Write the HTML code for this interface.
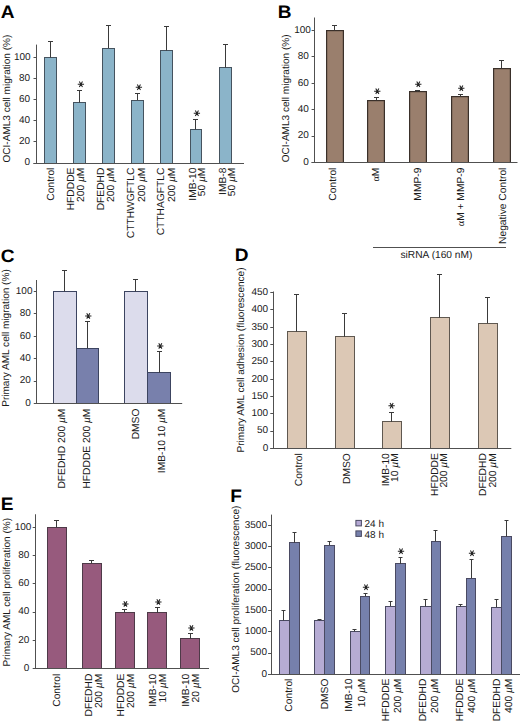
<!DOCTYPE html>
<html><head><meta charset="utf-8"><style>
html,body{margin:0;padding:0;background:#fff;}
svg{display:block;}
text{font-family:"Liberation Sans", sans-serif;text-rendering:geometricPrecision;}
</style></head><body>
<svg width="520" height="723" viewBox="0 0 520 723">
<rect width="520" height="723" fill="#fff"/>
<text transform="translate(0.80,17.60) scale(1.06,1)" font-size="18" font-weight="bold" fill="#000">A</text>
<rect x="44" y="57" width="13" height="107" fill="#45535f"/>
<rect x="45.00" y="58.00" width="11.00" height="106.00" fill="#8bb4c9"/>
<line x1="50.50" y1="57.50" x2="50.50" y2="41.15" stroke="#3a3a3a" stroke-width="1"/>
<line x1="48.00" y1="41.50" x2="53.00" y2="41.50" stroke="#3a3a3a" stroke-width="1"/>
<rect x="73" y="102" width="13" height="62" fill="#45535f"/>
<rect x="74.00" y="103.00" width="11.00" height="61.00" fill="#8bb4c9"/>
<line x1="79.50" y1="102.55" x2="79.50" y2="90.52" stroke="#3a3a3a" stroke-width="1"/>
<line x1="77.00" y1="90.50" x2="82.00" y2="90.50" stroke="#3a3a3a" stroke-width="1"/>
<path d="M77.75 84.20H84.05M79.33 81.47L82.48 86.93M82.48 81.47L79.33 86.93" stroke="#222" stroke-width="1.05" fill="none"/>
<rect x="102" y="48" width="13" height="116" fill="#45535f"/>
<rect x="103.00" y="49.00" width="11.00" height="115.00" fill="#8bb4c9"/>
<line x1="108.50" y1="48.01" x2="108.50" y2="25.96" stroke="#3a3a3a" stroke-width="1"/>
<line x1="106.00" y1="25.50" x2="111.00" y2="25.50" stroke="#3a3a3a" stroke-width="1"/>
<rect x="131" y="100" width="13" height="64" fill="#45535f"/>
<rect x="132.00" y="101.00" width="11.00" height="63.00" fill="#8bb4c9"/>
<line x1="137.50" y1="100.02" x2="137.50" y2="93.79" stroke="#3a3a3a" stroke-width="1"/>
<line x1="135.00" y1="93.50" x2="140.00" y2="93.50" stroke="#3a3a3a" stroke-width="1"/>
<path d="M135.75 87.20H142.05M137.33 84.47L140.47 89.93M140.47 84.47L137.33 89.93" stroke="#222" stroke-width="1.05" fill="none"/>
<rect x="160" y="50" width="13" height="114" fill="#45535f"/>
<rect x="161.00" y="51.00" width="11.00" height="113.00" fill="#8bb4c9"/>
<line x1="166.50" y1="50.54" x2="166.50" y2="26.27" stroke="#3a3a3a" stroke-width="1"/>
<line x1="164.00" y1="26.50" x2="169.00" y2="26.50" stroke="#3a3a3a" stroke-width="1"/>
<rect x="190" y="129" width="12" height="35" fill="#45535f"/>
<rect x="191.00" y="130.00" width="10.00" height="34.00" fill="#8bb4c9"/>
<line x1="195.50" y1="129.50" x2="195.50" y2="119.01" stroke="#3a3a3a" stroke-width="1"/>
<line x1="193.00" y1="119.50" x2="198.00" y2="119.50" stroke="#3a3a3a" stroke-width="1"/>
<path d="M193.75 113.20H200.05M195.33 110.47L198.47 115.93M198.47 110.47L195.33 115.93" stroke="#222" stroke-width="1.05" fill="none"/>
<rect x="219" y="67" width="13" height="97" fill="#45535f"/>
<rect x="220.00" y="68.00" width="11.00" height="96.00" fill="#8bb4c9"/>
<line x1="225.50" y1="67.52" x2="225.50" y2="44.52" stroke="#3a3a3a" stroke-width="1"/>
<line x1="223.00" y1="44.50" x2="228.00" y2="44.50" stroke="#3a3a3a" stroke-width="1"/>
<line x1="36.50" y1="44.60" x2="36.50" y2="163.00" stroke="#505050" stroke-width="1"/>
<line x1="33.50" y1="163.50" x2="36.50" y2="163.50" stroke="#505050" stroke-width="1"/>
<text x="30.00" y="165.30" font-size="10" text-anchor="end" font-weight="normal" fill="#1a1a1a" >0</text>
<line x1="33.50" y1="141.50" x2="36.50" y2="141.50" stroke="#505050" stroke-width="1"/>
<text x="30.00" y="144.20" font-size="10" text-anchor="end" font-weight="normal" fill="#1a1a1a" >20</text>
<line x1="33.50" y1="120.50" x2="36.50" y2="120.50" stroke="#505050" stroke-width="1"/>
<text x="30.00" y="123.10" font-size="10" text-anchor="end" font-weight="normal" fill="#1a1a1a" >40</text>
<line x1="33.50" y1="99.50" x2="36.50" y2="99.50" stroke="#505050" stroke-width="1"/>
<text x="30.00" y="102.00" font-size="10" text-anchor="end" font-weight="normal" fill="#1a1a1a" >60</text>
<line x1="33.50" y1="78.50" x2="36.50" y2="78.50" stroke="#505050" stroke-width="1"/>
<text x="30.00" y="80.90" font-size="10" text-anchor="end" font-weight="normal" fill="#1a1a1a" >80</text>
<line x1="33.50" y1="57.50" x2="36.50" y2="57.50" stroke="#505050" stroke-width="1"/>
<text x="30.70" y="59.80" font-size="10" text-anchor="end" font-weight="normal" fill="#1a1a1a" >100</text>
<line x1="33.50" y1="163.50" x2="244.00" y2="163.50" stroke="#505050" stroke-width="1"/>
<text transform="translate(54.00,167.60) rotate(-90)" font-size="10.25" text-anchor="end" fill="#1a1a1a">Control</text>
<text transform="translate(74.10,167.60) rotate(-90)" font-size="10.25" text-anchor="end" fill="#1a1a1a">HFDDDE</text>
<text transform="translate(83.70,167.60) rotate(-90)" font-size="10.25" text-anchor="end" fill="#1a1a1a">200 <tspan font-style="italic">&#181;</tspan>M</text>
<text transform="translate(104.00,167.60) rotate(-90)" font-size="10.25" text-anchor="end" fill="#1a1a1a">DFEDHD</text>
<text transform="translate(113.60,167.60) rotate(-90)" font-size="10.25" text-anchor="end" fill="#1a1a1a">200 <tspan font-style="italic">&#181;</tspan>M</text>
<text transform="translate(134.30,167.60) rotate(-90)" font-size="10.25" text-anchor="end" fill="#1a1a1a">CTTHWGFTLC</text>
<text transform="translate(144.60,167.60) rotate(-90)" font-size="10.25" text-anchor="end" fill="#1a1a1a">200 <tspan font-style="italic">&#181;</tspan>M</text>
<text transform="translate(164.30,167.60) rotate(-90)" font-size="10.25" text-anchor="end" fill="#1a1a1a">CTTHAGFTLC</text>
<text transform="translate(174.60,167.60) rotate(-90)" font-size="10.25" text-anchor="end" fill="#1a1a1a">200 <tspan font-style="italic">&#181;</tspan>M</text>
<text transform="translate(195.50,167.60) rotate(-90)" font-size="10.25" text-anchor="end" fill="#1a1a1a">IMB-10</text>
<text transform="translate(204.80,167.60) rotate(-90)" font-size="10.25" text-anchor="end" fill="#1a1a1a">50 <tspan font-style="italic">&#181;</tspan>M</text>
<text transform="translate(225.80,167.60) rotate(-90)" font-size="10.25" text-anchor="end" fill="#1a1a1a">IMB-8</text>
<text transform="translate(235.00,167.60) rotate(-90)" font-size="10.25" text-anchor="end" fill="#1a1a1a">50 <tspan font-style="italic">&#181;</tspan>M</text>
<text transform="translate(9.50,162.50) rotate(-90)" font-size="10.05" fill="#1a1a1a">OCI-AML3 cell migration (%)</text>
<text transform="translate(277.80,17.70) scale(1.06,1)" font-size="18" font-weight="bold" fill="#000">B</text>
<rect x="326" y="30" width="18" height="133" fill="#3a302a"/>
<rect x="327.20" y="31.20" width="15.60" height="131.80" fill="#9a7f6d"/>
<line x1="334.50" y1="30.40" x2="334.50" y2="25.78" stroke="#3a3a3a" stroke-width="1"/>
<line x1="332.00" y1="25.50" x2="337.00" y2="25.50" stroke="#3a3a3a" stroke-width="1"/>
<rect x="367" y="100" width="18" height="63" fill="#3a302a"/>
<rect x="368.20" y="101.20" width="15.60" height="61.80" fill="#9a7f6d"/>
<line x1="376.50" y1="100.36" x2="376.50" y2="97.46" stroke="#3a3a3a" stroke-width="1"/>
<line x1="374.00" y1="97.50" x2="379.00" y2="97.50" stroke="#3a3a3a" stroke-width="1"/>
<path d="M374.15 91.15H380.45M375.73 88.42L378.88 93.88M378.88 88.42L375.73 93.88" stroke="#222" stroke-width="1.05" fill="none"/>
<rect x="409" y="91" width="18" height="72" fill="#3a302a"/>
<rect x="410.20" y="92.20" width="15.60" height="70.80" fill="#9a7f6d"/>
<line x1="417.50" y1="91.65" x2="417.50" y2="90.06" stroke="#3a3a3a" stroke-width="1"/>
<line x1="415.00" y1="90.50" x2="420.00" y2="90.50" stroke="#3a3a3a" stroke-width="1"/>
<path d="M415.15 84.15H421.45M416.73 81.42L419.88 86.88M419.88 81.42L416.73 86.88" stroke="#222" stroke-width="1.05" fill="none"/>
<rect x="451" y="96" width="18" height="67" fill="#3a302a"/>
<rect x="452.20" y="97.20" width="15.60" height="65.80" fill="#9a7f6d"/>
<line x1="460.50" y1="96.00" x2="460.50" y2="94.68" stroke="#3a3a3a" stroke-width="1"/>
<line x1="458.00" y1="94.50" x2="463.00" y2="94.50" stroke="#3a3a3a" stroke-width="1"/>
<path d="M458.15 88.15H464.45M459.73 85.42L462.88 90.88M462.88 85.42L459.73 90.88" stroke="#222" stroke-width="1.05" fill="none"/>
<rect x="493" y="68" width="18" height="95" fill="#3a302a"/>
<rect x="494.20" y="69.20" width="15.60" height="93.80" fill="#9a7f6d"/>
<line x1="501.50" y1="68.28" x2="501.50" y2="60.23" stroke="#3a3a3a" stroke-width="1"/>
<line x1="499.00" y1="60.50" x2="504.00" y2="60.50" stroke="#3a3a3a" stroke-width="1"/>
<line x1="314.50" y1="17.50" x2="314.50" y2="162.40" stroke="#505050" stroke-width="1"/>
<line x1="311.60" y1="162.50" x2="314.60" y2="162.50" stroke="#505050" stroke-width="1"/>
<text x="308.90" y="164.70" font-size="10" text-anchor="end" font-weight="normal" fill="#1a1a1a" >0</text>
<line x1="311.60" y1="136.50" x2="314.60" y2="136.50" stroke="#505050" stroke-width="1"/>
<text x="308.90" y="138.30" font-size="10" text-anchor="end" font-weight="normal" fill="#1a1a1a" >20</text>
<line x1="311.60" y1="109.50" x2="314.60" y2="109.50" stroke="#505050" stroke-width="1"/>
<text x="308.90" y="111.90" font-size="10" text-anchor="end" font-weight="normal" fill="#1a1a1a" >40</text>
<line x1="311.60" y1="83.50" x2="314.60" y2="83.50" stroke="#505050" stroke-width="1"/>
<text x="308.90" y="85.50" font-size="10" text-anchor="end" font-weight="normal" fill="#1a1a1a" >60</text>
<line x1="311.60" y1="56.50" x2="314.60" y2="56.50" stroke="#505050" stroke-width="1"/>
<text x="308.90" y="59.10" font-size="10" text-anchor="end" font-weight="normal" fill="#1a1a1a" >80</text>
<line x1="311.60" y1="30.50" x2="314.60" y2="30.50" stroke="#505050" stroke-width="1"/>
<text x="310.90" y="32.70" font-size="10" text-anchor="end" font-weight="normal" fill="#1a1a1a" >100</text>
<line x1="311.60" y1="162.50" x2="517.50" y2="162.50" stroke="#505050" stroke-width="1"/>
<text transform="translate(336.00,167.60) rotate(-90)" font-size="10.25" text-anchor="end" fill="#1a1a1a">Control</text>
<text transform="translate(378.60,167.60) rotate(-90)" font-size="10.25" text-anchor="end" fill="#1a1a1a"><tspan font-family="Liberation Serif">&#945;</tspan>M</text>
<text transform="translate(421.20,167.60) rotate(-90)" font-size="10.25" text-anchor="end" fill="#1a1a1a">MMP-9</text>
<text transform="translate(463.60,167.60) rotate(-90)" font-size="10.25" text-anchor="end" fill="#1a1a1a"><tspan font-family="Liberation Serif">&#945;</tspan>M + MMP-9</text>
<text transform="translate(506.10,167.60) rotate(-90)" font-size="10.25" text-anchor="end" fill="#1a1a1a">Negative Control</text>
<line x1="373.00" y1="247.50" x2="506.00" y2="247.50" stroke="#505050" stroke-width="1"/>
<text x="400.50" y="258.30" font-size="10.2" text-anchor="start" font-weight="normal" fill="#1a1a1a" >siRNA (160 nM)</text>
<text transform="translate(288.80,162.30) rotate(-90)" font-size="10.05" fill="#1a1a1a">OCI-AML3 cell migration (%)</text>
<text transform="translate(0.80,261.80) scale(1.06,1)" font-size="18" font-weight="bold" fill="#000">C</text>
<rect x="53" y="291" width="24" height="113" fill="#3c4460"/>
<rect x="54.00" y="292.00" width="22.00" height="112.00" fill="#dcdcec"/>
<line x1="64.50" y1="291.40" x2="64.50" y2="270.08" stroke="#3a3a3a" stroke-width="1"/>
<line x1="62.00" y1="270.50" x2="67.00" y2="270.50" stroke="#3a3a3a" stroke-width="1"/>
<rect x="76" y="348" width="23" height="56" fill="#3c4460"/>
<rect x="77.00" y="349.00" width="21.00" height="55.00" fill="#7880ac"/>
<line x1="87.50" y1="348.17" x2="87.50" y2="321.25" stroke="#3a3a3a" stroke-width="1"/>
<line x1="85.00" y1="321.50" x2="90.00" y2="321.50" stroke="#3a3a3a" stroke-width="1"/>
<path d="M85.15 315.90H91.45M86.72 313.17L89.88 318.63M89.88 313.17L86.72 318.63" stroke="#222" stroke-width="1.05" fill="none"/>
<rect x="124" y="291" width="24" height="113" fill="#3c4460"/>
<rect x="125.00" y="292.00" width="22.00" height="112.00" fill="#dcdcec"/>
<line x1="135.50" y1="291.40" x2="135.50" y2="279.06" stroke="#3a3a3a" stroke-width="1"/>
<line x1="133.00" y1="279.50" x2="138.00" y2="279.50" stroke="#3a3a3a" stroke-width="1"/>
<rect x="147" y="372" width="24" height="32" fill="#3c4460"/>
<rect x="148.00" y="373.00" width="22.00" height="31.00" fill="#7880ac"/>
<line x1="159.50" y1="372.75" x2="159.50" y2="351.09" stroke="#3a3a3a" stroke-width="1"/>
<line x1="157.00" y1="351.50" x2="162.00" y2="351.50" stroke="#3a3a3a" stroke-width="1"/>
<path d="M157.15 345.90H163.45M158.73 343.17L161.88 348.63M161.88 343.17L158.73 348.63" stroke="#222" stroke-width="1.05" fill="none"/>
<line x1="36.50" y1="280.00" x2="36.50" y2="403.60" stroke="#505050" stroke-width="1"/>
<line x1="33.75" y1="403.50" x2="36.75" y2="403.50" stroke="#505050" stroke-width="1"/>
<text x="30.80" y="405.90" font-size="10" text-anchor="end" font-weight="normal" fill="#1a1a1a" >0</text>
<line x1="33.75" y1="381.50" x2="36.75" y2="381.50" stroke="#505050" stroke-width="1"/>
<text x="30.80" y="383.46" font-size="10" text-anchor="end" font-weight="normal" fill="#1a1a1a" >20</text>
<line x1="33.75" y1="358.50" x2="36.75" y2="358.50" stroke="#505050" stroke-width="1"/>
<text x="30.80" y="361.02" font-size="10" text-anchor="end" font-weight="normal" fill="#1a1a1a" >40</text>
<line x1="33.75" y1="336.50" x2="36.75" y2="336.50" stroke="#505050" stroke-width="1"/>
<text x="30.80" y="338.58" font-size="10" text-anchor="end" font-weight="normal" fill="#1a1a1a" >60</text>
<line x1="33.75" y1="313.50" x2="36.75" y2="313.50" stroke="#505050" stroke-width="1"/>
<text x="30.80" y="316.14" font-size="10" text-anchor="end" font-weight="normal" fill="#1a1a1a" >80</text>
<line x1="33.75" y1="291.50" x2="36.75" y2="291.50" stroke="#505050" stroke-width="1"/>
<text x="32.50" y="293.70" font-size="10" text-anchor="end" font-weight="normal" fill="#1a1a1a" >100</text>
<line x1="34.20" y1="403.50" x2="182.20" y2="403.50" stroke="#505050" stroke-width="1"/>
<text transform="translate(65.20,408.60) rotate(-90)" font-size="10.25" text-anchor="end" fill="#1a1a1a">DFEDHD 200 <tspan font-style="italic">&#181;</tspan>M</text>
<text transform="translate(90.20,408.60) rotate(-90)" font-size="10.25" text-anchor="end" fill="#1a1a1a">HFDDDE 200 <tspan font-style="italic">&#181;</tspan>M</text>
<text transform="translate(139.40,408.60) rotate(-90)" font-size="10.25" text-anchor="end" fill="#1a1a1a">DMSO</text>
<text transform="translate(165.10,408.60) rotate(-90)" font-size="10.25" text-anchor="end" fill="#1a1a1a">IMB-10 10 <tspan font-style="italic">&#181;</tspan>M</text>
<text transform="translate(9.30,406.80) rotate(-90)" font-size="10.05" fill="#1a1a1a">Primary AML cell migration (%)</text>
<text transform="translate(234.80,261.30) scale(1.06,1)" font-size="18" font-weight="bold" fill="#000">D</text>
<rect x="287" y="331" width="20" height="118" fill="#5f5850"/>
<rect x="288.00" y="332.00" width="18.00" height="117.00" fill="#dcc8b5"/>
<line x1="296.50" y1="331.52" x2="296.50" y2="294.31" stroke="#3a3a3a" stroke-width="1"/>
<line x1="294.00" y1="294.50" x2="299.00" y2="294.50" stroke="#3a3a3a" stroke-width="1"/>
<rect x="335" y="336" width="20" height="113" fill="#5f5850"/>
<rect x="336.00" y="337.00" width="18.00" height="112.00" fill="#dcc8b5"/>
<line x1="344.50" y1="336.75" x2="344.50" y2="313.71" stroke="#3a3a3a" stroke-width="1"/>
<line x1="342.00" y1="313.50" x2="347.00" y2="313.50" stroke="#3a3a3a" stroke-width="1"/>
<rect x="382" y="421" width="20" height="28" fill="#5f5850"/>
<rect x="383.00" y="422.00" width="18.00" height="27.00" fill="#dcc8b5"/>
<line x1="391.50" y1="421.82" x2="391.50" y2="412.81" stroke="#3a3a3a" stroke-width="1"/>
<line x1="389.00" y1="412.50" x2="394.00" y2="412.50" stroke="#3a3a3a" stroke-width="1"/>
<path d="M388.45 405.80H394.75M390.03 403.07L393.18 408.53M393.18 403.07L390.03 408.53" stroke="#222" stroke-width="1.05" fill="none"/>
<rect x="430" y="317" width="20" height="132" fill="#5f5850"/>
<rect x="431.00" y="318.00" width="18.00" height="131.00" fill="#dcc8b5"/>
<line x1="439.50" y1="317.70" x2="439.50" y2="274.90" stroke="#3a3a3a" stroke-width="1"/>
<line x1="437.00" y1="274.50" x2="442.00" y2="274.50" stroke="#3a3a3a" stroke-width="1"/>
<rect x="478" y="323" width="20" height="126" fill="#5f5850"/>
<rect x="479.00" y="324.00" width="18.00" height="125.00" fill="#dcc8b5"/>
<line x1="487.50" y1="323.24" x2="487.50" y2="297.43" stroke="#3a3a3a" stroke-width="1"/>
<line x1="485.00" y1="297.50" x2="490.00" y2="297.50" stroke="#3a3a3a" stroke-width="1"/>
<line x1="273.50" y1="291.50" x2="273.50" y2="448.50" stroke="#505050" stroke-width="1"/>
<line x1="270.30" y1="448.50" x2="273.30" y2="448.50" stroke="#505050" stroke-width="1"/>
<text x="268.20" y="450.80" font-size="10" text-anchor="end" font-weight="normal" fill="#1a1a1a" >0</text>
<line x1="270.30" y1="431.50" x2="273.30" y2="431.50" stroke="#505050" stroke-width="1"/>
<text x="268.20" y="433.48" font-size="10" text-anchor="end" font-weight="normal" fill="#1a1a1a" >50</text>
<line x1="270.30" y1="413.50" x2="273.30" y2="413.50" stroke="#505050" stroke-width="1"/>
<text x="268.20" y="416.15" font-size="10" text-anchor="end" font-weight="normal" fill="#1a1a1a" >100</text>
<line x1="270.30" y1="396.50" x2="273.30" y2="396.50" stroke="#505050" stroke-width="1"/>
<text x="268.20" y="398.82" font-size="10" text-anchor="end" font-weight="normal" fill="#1a1a1a" >150</text>
<line x1="270.30" y1="379.50" x2="273.30" y2="379.50" stroke="#505050" stroke-width="1"/>
<text x="268.20" y="381.50" font-size="10" text-anchor="end" font-weight="normal" fill="#1a1a1a" >200</text>
<line x1="270.30" y1="361.50" x2="273.30" y2="361.50" stroke="#505050" stroke-width="1"/>
<text x="268.20" y="364.18" font-size="10" text-anchor="end" font-weight="normal" fill="#1a1a1a" >250</text>
<line x1="270.30" y1="344.50" x2="273.30" y2="344.50" stroke="#505050" stroke-width="1"/>
<text x="268.20" y="346.85" font-size="10" text-anchor="end" font-weight="normal" fill="#1a1a1a" >300</text>
<line x1="270.30" y1="327.50" x2="273.30" y2="327.50" stroke="#505050" stroke-width="1"/>
<text x="268.20" y="329.53" font-size="10" text-anchor="end" font-weight="normal" fill="#1a1a1a" >350</text>
<line x1="270.30" y1="309.50" x2="273.30" y2="309.50" stroke="#505050" stroke-width="1"/>
<text x="268.20" y="312.20" font-size="10" text-anchor="end" font-weight="normal" fill="#1a1a1a" >400</text>
<line x1="270.30" y1="292.50" x2="273.30" y2="292.50" stroke="#505050" stroke-width="1"/>
<text x="268.20" y="294.88" font-size="10" text-anchor="end" font-weight="normal" fill="#1a1a1a" >450</text>
<line x1="270.40" y1="448.50" x2="511.30" y2="448.50" stroke="#505050" stroke-width="1"/>
<text transform="translate(301.90,453.20) rotate(-90)" font-size="10.25" text-anchor="end" fill="#1a1a1a">Control</text>
<text transform="translate(350.40,453.20) rotate(-90)" font-size="10.25" text-anchor="end" fill="#1a1a1a">DMSO</text>
<text transform="translate(388.80,453.20) rotate(-90)" font-size="10.25" text-anchor="end" fill="#1a1a1a">IMB-10</text>
<text transform="translate(398.20,453.20) rotate(-90)" font-size="10.25" text-anchor="end" fill="#1a1a1a">10 <tspan font-style="italic">&#181;</tspan>M</text>
<text transform="translate(437.60,453.20) rotate(-90)" font-size="10.25" text-anchor="end" fill="#1a1a1a">HFDDDE</text>
<text transform="translate(447.30,453.20) rotate(-90)" font-size="10.25" text-anchor="end" fill="#1a1a1a">200 <tspan font-style="italic">&#181;</tspan>M</text>
<text transform="translate(485.80,453.20) rotate(-90)" font-size="10.25" text-anchor="end" fill="#1a1a1a">DFEDHD</text>
<text transform="translate(495.80,453.20) rotate(-90)" font-size="10.25" text-anchor="end" fill="#1a1a1a">200 <tspan font-style="italic">&#181;</tspan>M</text>
<text transform="translate(243.70,452.50) rotate(-90)" font-size="10.05" fill="#1a1a1a">Primary AML cell adhesion (fluorescence)</text>
<text transform="translate(0.80,510.00) scale(1.06,1)" font-size="18" font-weight="bold" fill="#000">E</text>
<rect x="47" y="527" width="20" height="142" fill="#4e3a48"/>
<rect x="48.00" y="528.00" width="18.00" height="141.00" fill="#975a7d"/>
<line x1="56.50" y1="527.40" x2="56.50" y2="520.63" stroke="#3a3a3a" stroke-width="1"/>
<line x1="54.00" y1="520.50" x2="59.00" y2="520.50" stroke="#3a3a3a" stroke-width="1"/>
<rect x="82" y="563" width="20" height="106" fill="#4e3a48"/>
<rect x="83.00" y="564.00" width="18.00" height="105.00" fill="#975a7d"/>
<line x1="91.50" y1="563.21" x2="91.50" y2="560.25" stroke="#3a3a3a" stroke-width="1"/>
<line x1="89.00" y1="560.50" x2="94.00" y2="560.50" stroke="#3a3a3a" stroke-width="1"/>
<rect x="115" y="612" width="20" height="57" fill="#4e3a48"/>
<rect x="116.00" y="613.00" width="18.00" height="56.00" fill="#975a7d"/>
<line x1="124.50" y1="612.70" x2="124.50" y2="609.74" stroke="#3a3a3a" stroke-width="1"/>
<line x1="122.00" y1="609.50" x2="127.00" y2="609.50" stroke="#3a3a3a" stroke-width="1"/>
<path d="M122.25 603.90H128.55M123.83 601.17L126.98 606.63M126.98 601.17L123.83 606.63" stroke="#222" stroke-width="1.05" fill="none"/>
<rect x="147" y="612" width="20" height="57" fill="#4e3a48"/>
<rect x="148.00" y="613.00" width="18.00" height="56.00" fill="#975a7d"/>
<line x1="157.50" y1="612.99" x2="157.50" y2="607.63" stroke="#3a3a3a" stroke-width="1"/>
<line x1="155.00" y1="607.50" x2="160.00" y2="607.50" stroke="#3a3a3a" stroke-width="1"/>
<path d="M155.25 601.90H161.55M156.83 599.17L159.97 604.63M159.97 599.17L156.83 604.63" stroke="#222" stroke-width="1.05" fill="none"/>
<rect x="180" y="638" width="20" height="31" fill="#4e3a48"/>
<rect x="181.00" y="639.00" width="18.00" height="30.00" fill="#975a7d"/>
<line x1="190.50" y1="638.79" x2="190.50" y2="633.43" stroke="#3a3a3a" stroke-width="1"/>
<line x1="188.00" y1="633.50" x2="193.00" y2="633.50" stroke="#3a3a3a" stroke-width="1"/>
<path d="M188.25 627.90H194.55M189.83 625.17L192.97 630.63M192.97 625.17L189.83 630.63" stroke="#222" stroke-width="1.05" fill="none"/>
<line x1="35.50" y1="514.25" x2="35.50" y2="668.40" stroke="#505050" stroke-width="1"/>
<line x1="32.70" y1="668.50" x2="35.70" y2="668.50" stroke="#505050" stroke-width="1"/>
<text x="29.40" y="670.70" font-size="10" text-anchor="end" font-weight="normal" fill="#1a1a1a" >0</text>
<line x1="32.70" y1="640.50" x2="35.70" y2="640.50" stroke="#505050" stroke-width="1"/>
<text x="29.40" y="642.50" font-size="10" text-anchor="end" font-weight="normal" fill="#1a1a1a" >20</text>
<line x1="32.70" y1="612.50" x2="35.70" y2="612.50" stroke="#505050" stroke-width="1"/>
<text x="29.40" y="614.30" font-size="10" text-anchor="end" font-weight="normal" fill="#1a1a1a" >40</text>
<line x1="32.70" y1="583.50" x2="35.70" y2="583.50" stroke="#505050" stroke-width="1"/>
<text x="29.40" y="586.10" font-size="10" text-anchor="end" font-weight="normal" fill="#1a1a1a" >60</text>
<line x1="32.70" y1="555.50" x2="35.70" y2="555.50" stroke="#505050" stroke-width="1"/>
<text x="29.40" y="557.90" font-size="10" text-anchor="end" font-weight="normal" fill="#1a1a1a" >80</text>
<line x1="32.70" y1="527.50" x2="35.70" y2="527.50" stroke="#505050" stroke-width="1"/>
<text x="31.40" y="529.70" font-size="10" text-anchor="end" font-weight="normal" fill="#1a1a1a" >100</text>
<line x1="33.80" y1="668.50" x2="209.00" y2="668.50" stroke="#505050" stroke-width="1"/>
<text transform="translate(60.20,673.70) rotate(-90)" font-size="10.25" text-anchor="end" fill="#1a1a1a">Control</text>
<text transform="translate(91.50,673.70) rotate(-90)" font-size="10.25" text-anchor="end" fill="#1a1a1a">DFEDHD</text>
<text transform="translate(101.90,673.70) rotate(-90)" font-size="10.25" text-anchor="end" fill="#1a1a1a">200 <tspan font-style="italic">&#181;</tspan>M</text>
<text transform="translate(124.10,673.70) rotate(-90)" font-size="10.25" text-anchor="end" fill="#1a1a1a">HFDDDE</text>
<text transform="translate(134.30,673.70) rotate(-90)" font-size="10.25" text-anchor="end" fill="#1a1a1a">200 <tspan font-style="italic">&#181;</tspan>M</text>
<text transform="translate(155.80,673.70) rotate(-90)" font-size="10.25" text-anchor="end" fill="#1a1a1a">IMB-10</text>
<text transform="translate(166.10,673.70) rotate(-90)" font-size="10.25" text-anchor="end" fill="#1a1a1a">10 <tspan font-style="italic">&#181;</tspan>M</text>
<text transform="translate(188.80,673.70) rotate(-90)" font-size="10.25" text-anchor="end" fill="#1a1a1a">IMB-10</text>
<text transform="translate(199.30,673.70) rotate(-90)" font-size="10.25" text-anchor="end" fill="#1a1a1a">20 <tspan font-style="italic">&#181;</tspan>M</text>
<text transform="translate(10.00,666.60) rotate(-90)" font-size="10.05" fill="#1a1a1a">Primary AML cell proliferation (%)</text>
<text transform="translate(230.30,502.00) scale(1.06,1)" font-size="18" font-weight="bold" fill="#000">F</text>
<rect x="279" y="620" width="11" height="55" fill="#4a4a62"/>
<rect x="280.00" y="621.00" width="9.00" height="54.00" fill="#b6acd4"/>
<rect x="289" y="542" width="11" height="133" fill="#4a4a62"/>
<rect x="290.00" y="543.00" width="9.00" height="132.00" fill="#7680ac"/>
<line x1="283.50" y1="620.41" x2="283.50" y2="610.31" stroke="#3a3a3a" stroke-width="1"/>
<line x1="281.50" y1="610.50" x2="285.50" y2="610.50" stroke="#3a3a3a" stroke-width="1"/>
<line x1="294.50" y1="542.79" x2="294.50" y2="532.40" stroke="#3a3a3a" stroke-width="1"/>
<line x1="292.50" y1="532.50" x2="296.50" y2="532.50" stroke="#3a3a3a" stroke-width="1"/>
<rect x="314" y="620" width="12" height="55" fill="#4a4a62"/>
<rect x="315.00" y="621.00" width="10.00" height="54.00" fill="#b6acd4"/>
<rect x="324" y="545" width="11" height="130" fill="#4a4a62"/>
<rect x="325.00" y="546.00" width="9.00" height="129.00" fill="#7680ac"/>
<line x1="319.50" y1="620.71" x2="319.50" y2="619.98" stroke="#3a3a3a" stroke-width="1"/>
<line x1="317.50" y1="619.50" x2="321.50" y2="619.50" stroke="#3a3a3a" stroke-width="1"/>
<line x1="329.50" y1="545.09" x2="329.50" y2="541.60" stroke="#3a3a3a" stroke-width="1"/>
<line x1="327.50" y1="541.50" x2="331.50" y2="541.50" stroke="#3a3a3a" stroke-width="1"/>
<rect x="350" y="631" width="11" height="44" fill="#4a4a62"/>
<rect x="351.00" y="632.00" width="9.00" height="43.00" fill="#b6acd4"/>
<rect x="360" y="596" width="10" height="79" fill="#4a4a62"/>
<rect x="361.00" y="597.00" width="8.00" height="78.00" fill="#7680ac"/>
<line x1="354.50" y1="631.40" x2="354.50" y2="629.23" stroke="#3a3a3a" stroke-width="1"/>
<line x1="352.50" y1="629.50" x2="356.50" y2="629.50" stroke="#3a3a3a" stroke-width="1"/>
<line x1="365.50" y1="596.09" x2="365.50" y2="593.02" stroke="#3a3a3a" stroke-width="1"/>
<line x1="363.50" y1="593.50" x2="367.50" y2="593.50" stroke="#3a3a3a" stroke-width="1"/>
<path d="M362.85 587.25H369.15M364.43 584.52L367.57 589.98M367.57 584.52L364.43 589.98" stroke="#222" stroke-width="1.05" fill="none"/>
<rect x="385" y="606" width="11" height="69" fill="#4a4a62"/>
<rect x="386.00" y="607.00" width="9.00" height="68.00" fill="#b6acd4"/>
<rect x="395" y="563" width="11" height="112" fill="#4a4a62"/>
<rect x="396.00" y="564.00" width="9.00" height="111.00" fill="#7680ac"/>
<line x1="390.50" y1="606.01" x2="390.50" y2="601.41" stroke="#3a3a3a" stroke-width="1"/>
<line x1="388.50" y1="601.50" x2="392.50" y2="601.50" stroke="#3a3a3a" stroke-width="1"/>
<line x1="400.50" y1="563.88" x2="400.50" y2="557.02" stroke="#3a3a3a" stroke-width="1"/>
<line x1="398.50" y1="557.50" x2="402.50" y2="557.50" stroke="#3a3a3a" stroke-width="1"/>
<path d="M397.85 551.25H404.15M399.43 548.52L402.57 553.98M402.57 548.52L399.43 553.98" stroke="#222" stroke-width="1.05" fill="none"/>
<rect x="420" y="606" width="12" height="69" fill="#4a4a62"/>
<rect x="421.00" y="607.00" width="10.00" height="68.00" fill="#b6acd4"/>
<rect x="431" y="541" width="10" height="134" fill="#4a4a62"/>
<rect x="432.00" y="542.00" width="8.00" height="133.00" fill="#7680ac"/>
<line x1="425.50" y1="606.31" x2="425.50" y2="599.41" stroke="#3a3a3a" stroke-width="1"/>
<line x1="423.50" y1="599.50" x2="427.50" y2="599.50" stroke="#3a3a3a" stroke-width="1"/>
<line x1="435.50" y1="541.39" x2="435.50" y2="530.78" stroke="#3a3a3a" stroke-width="1"/>
<line x1="433.50" y1="530.50" x2="437.50" y2="530.50" stroke="#3a3a3a" stroke-width="1"/>
<rect x="456" y="606" width="11" height="69" fill="#4a4a62"/>
<rect x="457.00" y="607.00" width="9.00" height="68.00" fill="#b6acd4"/>
<rect x="466" y="578" width="10" height="97" fill="#4a4a62"/>
<rect x="467.00" y="579.00" width="8.00" height="96.00" fill="#7680ac"/>
<line x1="460.50" y1="606.91" x2="460.50" y2="604.31" stroke="#3a3a3a" stroke-width="1"/>
<line x1="458.50" y1="604.50" x2="462.50" y2="604.50" stroke="#3a3a3a" stroke-width="1"/>
<line x1="471.50" y1="578.11" x2="471.50" y2="559.62" stroke="#3a3a3a" stroke-width="1"/>
<line x1="469.50" y1="559.50" x2="473.50" y2="559.50" stroke="#3a3a3a" stroke-width="1"/>
<path d="M468.85 553.25H475.15M470.43 550.52L473.57 555.98M473.57 550.52L470.43 555.98" stroke="#222" stroke-width="1.05" fill="none"/>
<rect x="491" y="607" width="11" height="68" fill="#4a4a62"/>
<rect x="492.00" y="608.00" width="9.00" height="67.00" fill="#b6acd4"/>
<rect x="501" y="536" width="11" height="139" fill="#4a4a62"/>
<rect x="502.00" y="537.00" width="9.00" height="138.00" fill="#7680ac"/>
<line x1="496.50" y1="607.20" x2="496.50" y2="599.41" stroke="#3a3a3a" stroke-width="1"/>
<line x1="494.50" y1="599.50" x2="498.50" y2="599.50" stroke="#3a3a3a" stroke-width="1"/>
<line x1="506.50" y1="536.49" x2="506.50" y2="520.39" stroke="#3a3a3a" stroke-width="1"/>
<line x1="504.50" y1="520.50" x2="508.50" y2="520.50" stroke="#3a3a3a" stroke-width="1"/>
<line x1="271.50" y1="514.60" x2="271.50" y2="674.30" stroke="#505050" stroke-width="1"/>
<line x1="268.10" y1="674.50" x2="271.10" y2="674.50" stroke="#505050" stroke-width="1"/>
<text x="267.00" y="676.60" font-size="10" text-anchor="end" font-weight="normal" fill="#1a1a1a" >0</text>
<line x1="268.10" y1="653.50" x2="271.10" y2="653.50" stroke="#505050" stroke-width="1"/>
<text x="267.00" y="655.30" font-size="10" text-anchor="end" font-weight="normal" fill="#1a1a1a" >500</text>
<line x1="268.10" y1="631.50" x2="271.10" y2="631.50" stroke="#505050" stroke-width="1"/>
<text x="267.00" y="634.00" font-size="10" text-anchor="end" font-weight="normal" fill="#1a1a1a" >1000</text>
<line x1="268.10" y1="610.50" x2="271.10" y2="610.50" stroke="#505050" stroke-width="1"/>
<text x="267.00" y="612.70" font-size="10" text-anchor="end" font-weight="normal" fill="#1a1a1a" >1500</text>
<line x1="268.10" y1="589.50" x2="271.10" y2="589.50" stroke="#505050" stroke-width="1"/>
<text x="267.00" y="591.40" font-size="10" text-anchor="end" font-weight="normal" fill="#1a1a1a" >2000</text>
<line x1="268.10" y1="567.50" x2="271.10" y2="567.50" stroke="#505050" stroke-width="1"/>
<text x="267.00" y="570.10" font-size="10" text-anchor="end" font-weight="normal" fill="#1a1a1a" >2500</text>
<line x1="268.10" y1="546.50" x2="271.10" y2="546.50" stroke="#505050" stroke-width="1"/>
<text x="267.00" y="548.80" font-size="10" text-anchor="end" font-weight="normal" fill="#1a1a1a" >3000</text>
<line x1="268.10" y1="525.50" x2="271.10" y2="525.50" stroke="#505050" stroke-width="1"/>
<text x="267.00" y="527.50" font-size="10" text-anchor="end" font-weight="normal" fill="#1a1a1a" >3500</text>
<line x1="268.00" y1="674.50" x2="520.00" y2="674.50" stroke="#505050" stroke-width="1"/>
<text transform="translate(291.50,678.60) rotate(-90)" font-size="10.25" text-anchor="end" fill="#1a1a1a">Control</text>
<text transform="translate(328.30,678.60) rotate(-90)" font-size="10.25" text-anchor="end" fill="#1a1a1a">DMSO</text>
<text transform="translate(352.10,678.60) rotate(-90)" font-size="10.25" text-anchor="end" fill="#1a1a1a">IMB-10</text>
<text transform="translate(364.50,678.60) rotate(-90)" font-size="10.25" text-anchor="end" fill="#1a1a1a">10 <tspan font-style="italic">&#181;</tspan>M</text>
<text transform="translate(389.10,678.60) rotate(-90)" font-size="10.25" text-anchor="end" fill="#1a1a1a">HFDDDE</text>
<text transform="translate(401.30,678.60) rotate(-90)" font-size="10.25" text-anchor="end" fill="#1a1a1a">200 <tspan font-style="italic">&#181;</tspan>M</text>
<text transform="translate(425.80,678.60) rotate(-90)" font-size="10.25" text-anchor="end" fill="#1a1a1a">DFEDHD</text>
<text transform="translate(438.30,678.60) rotate(-90)" font-size="10.25" text-anchor="end" fill="#1a1a1a">200 <tspan font-style="italic">&#181;</tspan>M</text>
<text transform="translate(463.20,678.60) rotate(-90)" font-size="10.25" text-anchor="end" fill="#1a1a1a">HFDDDE</text>
<text transform="translate(475.30,678.60) rotate(-90)" font-size="10.25" text-anchor="end" fill="#1a1a1a">400 <tspan font-style="italic">&#181;</tspan>M</text>
<text transform="translate(499.80,678.60) rotate(-90)" font-size="10.25" text-anchor="end" fill="#1a1a1a">DFEDHD</text>
<text transform="translate(512.40,678.60) rotate(-90)" font-size="10.25" text-anchor="end" fill="#1a1a1a">400 <tspan font-style="italic">&#181;</tspan>M</text>
<rect x="355.9" y="520.4" width="5.5" height="5.5" fill="#b4a8d4" stroke="#4a4a62" stroke-width="1"/>
<rect x="355.9" y="530.9" width="5.5" height="5.5" fill="#7680ac" stroke="#4a4a62" stroke-width="1"/>
<text x="364.50" y="527.00" font-size="10" text-anchor="start" font-weight="normal" fill="#1a1a1a" >24 h</text>
<text x="364.50" y="537.50" font-size="10" text-anchor="start" font-weight="normal" fill="#1a1a1a" >48 h</text>
<text transform="translate(239.00,692.70) rotate(-90)" font-size="10.05" fill="#1a1a1a">OCI-AML3 cell proliferation (fluorescence)</text>
</svg>
</body></html>
